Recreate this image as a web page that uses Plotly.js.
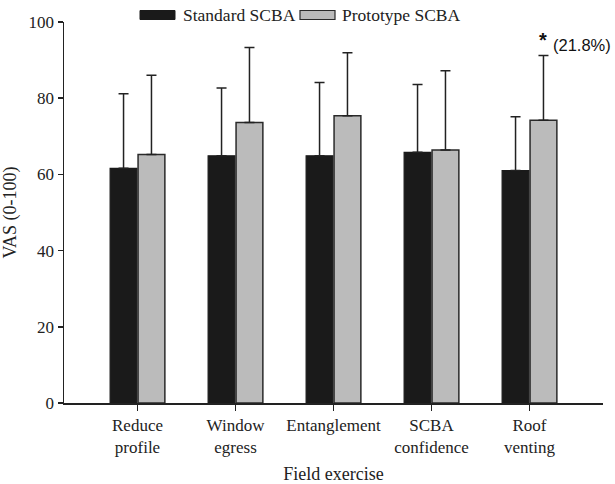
<!DOCTYPE html>
<html>
<head>
<meta charset="utf-8">
<script src="https://cdn.plot.ly/plotly-3.0.1.min.js"></script>
<style>html,body{margin:0;padding:0;background:#fff;}#chart{width:615px;height:484px;}</style>
</head>
<body>
<div id="chart"></div>
<script>
const categories = ["Reduce<br>profile", "Window<br>egress", "Entanglement", "SCBA<br>confidence", "Roof<br>venting"];
const standardMean = [61.6, 64.9, 64.9, 65.8, 61.0];
const standardSD = [19.6, 17.8, 19.2, 17.8, 14.1];
const prototypeMean = [65.2, 73.6, 75.4, 66.4, 74.2];
const prototypeSD = [20.8, 19.7, 16.5, 20.8, 17.0];
const seriesNames = ["Standard SCBA", "Prototype SCBA"];
const yTicks = [0, 20, 40, 60, 80, 100];

const serif = "Liberation Serif, Times New Roman, serif";
const sans = "Liberation Sans, Arial, sans-serif";
const ink = "#222222";

// plot area in pixels (for paper-coordinate legend placement)
const L = 64, R = 603, T = 22, B = 403;
const px = x => (x - L) / (R - L);
const py = y => (B - y) / (B - T);

const traces = [
  {
    type: "bar", name: seriesNames[0], x: categories, y: standardMean,
    marker: {color: "#1a1a1a", line: {color: "#1a1a1a", width: 1.2}},
    error_y: {type: "data", symmetric: false, array: standardSD, arrayminus: standardSD.map(() => 0),
              color: ink, thickness: 1.5, width: 5},
    showlegend: false
  },
  {
    type: "bar", name: seriesNames[1], x: categories, y: prototypeMean,
    marker: {color: "#bbbbbb", line: {color: "#2a2a2a", width: 1.5}},
    error_y: {type: "data", symmetric: false, array: prototypeSD, arrayminus: prototypeSD.map(() => 0),
              color: ink, thickness: 1.5, width: 5},
    showlegend: false
  }
];

const layout = {
  width: 615, height: 484,
  margin: {l: L, r: 615 - R, t: T, b: 484 - B},
  paper_bgcolor: "#fff", plot_bgcolor: "#fff",
  barmode: "group", bargap: 0.43, bargroupgap: 0.04,
  font: {family: serif, size: 16, color: ink},
  xaxis: {
    type: "category", range: [-0.75, 4.75],
    showline: true, linecolor: ink, linewidth: 1.5,
    ticks: "outside", ticklen: 6, tickcolor: ink, tickwidth: 1.5,
    tickfont: {family: serif, size: 17, color: ink},
    showgrid: false, zeroline: false,
    title: {text: "Field exercise", font: {family: serif, size: 18, color: ink}, standoff: 15}
  },
  yaxis: {
    range: [0, 100], tickvals: yTicks,
    showline: true, linecolor: ink, linewidth: 1.5,
    ticks: "outside", ticklen: 5, tickcolor: ink, tickwidth: 1.5,
    tickfont: {family: serif, size: 17, color: ink},
    showgrid: false, zeroline: false,
    title: {text: "VAS (0-100)", font: {family: serif, size: 18, color: ink}, standoff: 10}
  },
  shapes: [
    {type: "rect", xref: "paper", yref: "paper", x0: px(140), x1: px(175), y0: py(19.5), y1: py(10.5),
     fillcolor: "#1a1a1a", line: {color: "#1a1a1a", width: 1}},
    {type: "rect", xref: "paper", yref: "paper", x0: px(300), x1: px(335), y0: py(19.5), y1: py(10.5),
     fillcolor: "#bbbbbb", line: {color: "#2a2a2a", width: 1.2}}
  ],
  annotations: [
    {xref: "paper", yref: "paper", x: px(181), y: py(15), xanchor: "left", yanchor: "middle",
     text: seriesNames[0], showarrow: false, font: {family: serif, size: 17.5, color: ink}},
    {xref: "paper", yref: "paper", x: px(340), y: py(15), xanchor: "left", yanchor: "middle",
     text: seriesNames[1], showarrow: false, font: {family: serif, size: 17.5, color: ink}},
    {xref: "x", yref: "y", x: categories[4], y: prototypeMean[4] + prototypeSD[4], xshift: 13, yshift: 16,
     xanchor: "center", yanchor: "middle", text: "<b>*</b>", showarrow: false,
     font: {family: sans, size: 20, color: "#111"}},
    {xref: "x", yref: "y", x: categories[4], y: prototypeMean[4] + prototypeSD[4], xshift: 21, yshift: 11,
     xanchor: "left", yanchor: "middle", text: "(21.8%)", showarrow: false,
     font: {family: sans, size: 16.5, color: "#111"}}
  ]
};

Plotly.newPlot("chart", traces, layout, {displayModeBar: false, staticPlot: true});
</script>
</body>
</html>
